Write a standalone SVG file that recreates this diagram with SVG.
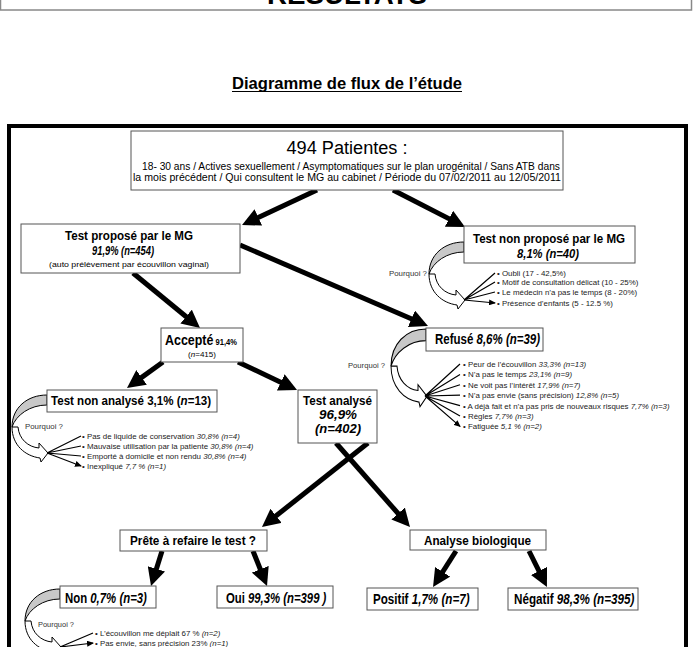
<svg xmlns="http://www.w3.org/2000/svg" width="694" height="647" viewBox="0 0 694 647">
<style>
text{font-family:"Liberation Sans",Arial,sans-serif;fill:#000}
.box{fill:#fff;stroke:#555;stroke-width:1}
.b{font-weight:bold}
.i{font-style:italic}
.bul{font-size:7.9px;fill:#222}
.pq{font-size:8px;fill:#333}
.big{stroke:#000;stroke-width:5;fill:none;marker-end:url(#ah)}
.fan{stroke:#000;stroke-width:1.2;fill:none;marker-end:url(#sh)}
</style>
<defs>
<marker id="ah" markerUnits="userSpaceOnUse" markerWidth="18" markerHeight="18" refX="8" refY="9" orient="auto"><path d="M0,0 L18,9 L0,18 Z" fill="#000"/></marker>
<marker id="sh" markerUnits="userSpaceOnUse" markerWidth="7" markerHeight="6" refX="6" refY="3" orient="auto"><path d="M0,0 L7,3 L0,6 Z" fill="#000"/></marker>
<g id="curv">
<path d="M0,0 C-20,0 -35,13 -35,32 C-31,20 -17,10 0,10 Z" fill="#c8c8c8" stroke="#000" stroke-width="1"/>
<path d="M-35,32 C-35,50 -22,61 -7,63 L-6,67 L1,58 L-8,48 L-8,53 C-19,52 -28,44 -29,32 Z" fill="#fff" stroke="#000" stroke-width="1"/>
</g>
</defs>
<rect width="694" height="647" fill="#fff"/>
<g id="header">
<rect x="0.5" y="-30" width="691" height="40" fill="#fff" stroke="#888" stroke-width="1.5"/>
<text x="347" y="4" text-anchor="middle" class="b" font-size="27" textLength="160" lengthAdjust="spacingAndGlyphs">RÉSULTATS</text>
</g>
<g id="title">
<text x="347" y="89" text-anchor="middle" class="b" font-size="16" textLength="230" lengthAdjust="spacingAndGlyphs">Diagramme de flux de l’étude</text>
<line x1="232" y1="91.5" x2="462" y2="91.5" stroke="#000" stroke-width="1.2"/>
</g>
<rect id="frame" x="9" y="126" width="677" height="560" fill="none" stroke="#000" stroke-width="4"/>
<g id="connectors">
<path class="big" d="M317,190 L251.1,220.8"/>
<path class="big" d="M393,190 L456.1,222.4"/>
<path class="big" d="M133,273 L192.3,321.7"/>
<path class="big" d="M240,245 L418.8,322"/>
<path class="big" d="M163,362 L135.1,382.1"/>
<path class="big" d="M238,362 L288,385.7"/>
<path class="big" d="M368,443 L269.8,520.8"/>
<path class="big" d="M336,443 L403.4,519.5"/>
<path class="big" d="M162,551 L154,576.5"/>
<path class="big" d="M253,551 L263.3,576.7"/>
<path class="big" d="M456,551 L438.4,578.6"/>
<path class="big" d="M529,551 L542.5,578.1"/>
<use href="#curv" transform="translate(464,242)"/>
<use href="#curv" transform="translate(426,329) scale(1,1.16)"/>
<use href="#curv" transform="translate(47,395)"/>
<use href="#curv" transform="translate(60,589)"/>
<path class="fan" d="M464,300 L495,273 M464,300 L495,282 M464,300 L495,292 M464,300 L495,303"/>
<path class="fan" d="M425,396 L460,364 M425,396 L460,374.4 M425,396 L460,384.8 M425,396 L460,395.2 M425,396 L460,405.6 M425,396 L460,416 M425,396 L460,426.4"/>
<path class="fan" d="M47,453 L81,436 M47,453 L81,446 M47,453 L81,456 M47,453 L81,466"/>
<path class="fan" d="M60,647 L93,633 M60,647 L93,643"/>
</g>
<g id="n-top">
<rect class="box" x="131" y="131" width="432" height="59"/>
<text x="347" y="154" text-anchor="middle" font-size="18" textLength="121" lengthAdjust="spacingAndGlyphs">494 Patientes :</text>
<text x="142" y="170" font-size="10.5" textLength="418" lengthAdjust="spacingAndGlyphs">18- 30 ans / Actives sexuellement / Asymptomatiques sur le plan urogénital / Sans ATB dans</text>
<text x="133" y="181" font-size="10.5" textLength="428" lengthAdjust="spacingAndGlyphs">la mois précédent /  Qui consultent le MG au  cabinet /  Période du 07/02/2011 au 12/05/2011</text>
</g>
<g id="n-propose">
<rect class="box" x="21" y="224" width="219" height="49"/>
<text x="129" y="240" text-anchor="middle" class="b" font-size="12.5" textLength="128" lengthAdjust="spacingAndGlyphs">Test proposé par le MG</text>
<text x="123" y="255" text-anchor="middle" class="b i" font-size="12.5" textLength="62" lengthAdjust="spacingAndGlyphs">91,9% (n=454)</text>
<text x="129" y="267" text-anchor="middle" font-size="7.5" fill="#222" textLength="160" lengthAdjust="spacingAndGlyphs">(auto prélèvement par écouvillon vaginal)</text>
</g>
<g id="n-nonpropose">
<rect class="box" x="464" y="226" width="171" height="37"/>
<text transform="translate(549,243) scale(0.858,1)" text-anchor="middle" class="b" font-size="13.5">Test non proposé par le MG</text>
<text transform="translate(548,257.5) scale(0.83,1)" text-anchor="middle" class="b i" font-size="13.5">8,1% (n=40)</text>
<text x="389" y="276" class="pq" textLength="38" lengthAdjust="spacingAndGlyphs">Pourquoi ?</text>
<text x="497" y="276" class="bul">• Oubli (17 - 42,5%)</text>
<text x="497" y="285" class="bul">• Motif de consultation délicat (10 - 25%)</text>
<text x="497" y="295" class="bul">• Le médecin n’a pas le temps (8 - 20%)</text>
<text x="497" y="306" class="bul">• Présence d’enfants (5 - 12.5 %)</text>
</g>
<g id="n-accepte">
<rect class="box" x="161" y="328" width="82" height="34"/>
<text transform="translate(165,345) scale(0.889,1)" class="b" font-size="14">Accepté<tspan font-size="8.5"> 91,4%</tspan></text>
<text x="202" y="357" text-anchor="middle" font-size="8">(<tspan class="i">n</tspan>=415)</text>
</g>
<g id="n-refuse">
<rect class="box" x="426" y="328" width="117" height="23"/>
<text transform="translate(435,344) scale(0.766,1)" class="b" font-size="15">Refusé <tspan class="i">8,6% (n=39)</tspan></text>
<text x="348" y="368" class="pq" textLength="37" lengthAdjust="spacingAndGlyphs">Pourquoi ?</text>
<text x="463" y="367" class="bul">• Peur de l’écouvillon <tspan class="i">33,3% (n=13)</tspan></text>
<text x="463" y="377.4" class="bul">• N’a pas le temps <tspan class="i">23,1% (n=9)</tspan></text>
<text x="463" y="387.8" class="bul">• Ne voit pas l’intérêt <tspan class="i">17,9% (n=7)</tspan></text>
<text x="463" y="398.2" class="bul">• N’a pas envie (sans précision) <tspan class="i">12,8% (n=5)</tspan></text>
<text x="463" y="408.6" class="bul">• A déjà fait et n’a pas pris de nouveaux risques <tspan class="i">7,7% (n=3)</tspan></text>
<text x="463" y="419" class="bul">• Règles <tspan class="i">7,7% (n=3)</tspan></text>
<text x="463" y="429.4" class="bul">• Fatiguée  <tspan class="i">5,1 % (n=2)</tspan></text>
</g>
<g id="n-nonanalyse">
<rect class="box" x="47" y="390" width="170" height="22"/>
<text transform="translate(51,405) scale(0.857,1)" class="b" font-size="13.5">Test non analysé 3,1% (<tspan class="i">n</tspan>=13)</text>
<text x="25" y="429" class="pq" textLength="38" lengthAdjust="spacingAndGlyphs">Pourquoi ?</text>
<text x="82" y="439" class="bul">• Pas de liquide de conservation <tspan class="i">30,8% (n=4)</tspan></text>
<text x="82" y="449" class="bul">• Mauvaise utilisation par la patiente <tspan class="i">30,8% (n=4)</tspan></text>
<text x="82" y="459" class="bul">• Emporté à domicile et non rendu <tspan class="i">30,8% (n=4)</tspan></text>
<text x="82" y="469" class="bul">• Inexpliqué <tspan class="i">7,7 % (n=1)</tspan></text>
</g>
<g id="n-analyse">
<rect class="box" x="298" y="390" width="79" height="53"/>
<text x="337.5" y="405" text-anchor="middle" class="b" font-size="13.5" textLength="69" lengthAdjust="spacingAndGlyphs">Test analysé</text>
<text x="338" y="419" text-anchor="middle" class="b i" font-size="13.5" textLength="38" lengthAdjust="spacingAndGlyphs">96,9%</text>
<text x="338" y="433" text-anchor="middle" class="b i" font-size="13.5" textLength="46" lengthAdjust="spacingAndGlyphs">(n=402)</text>
</g>
<g id="n-prete">
<rect class="box" x="120" y="530" width="147" height="21"/>
<text x="193" y="545" text-anchor="middle" class="b" font-size="13" textLength="126" lengthAdjust="spacingAndGlyphs">Prête à refaire le test ?</text>
</g>
<g id="n-analysebio">
<rect class="box" x="410" y="530" width="136" height="20"/>
<text x="477.5" y="545" text-anchor="middle" class="b" font-size="13" textLength="107" lengthAdjust="spacingAndGlyphs">Analyse biologique</text>
</g>
<g id="n-non">
<rect class="box" x="60" y="586" width="96" height="22"/>
<text transform="translate(65,603) scale(0.814,1)" class="b" font-size="14">Non <tspan class="i">0,7% (n=3)</tspan></text>
<text x="38" y="627" class="pq" textLength="36" lengthAdjust="spacingAndGlyphs">Pourquoi ?</text>
<text x="95" y="636" class="bul">• L’écouvillon me déplait 67 % <tspan class="i">(n=2)</tspan></text>
<text x="95" y="646" class="bul">•  Pas envie, sans précision 23% <tspan class="i">(n=1)</tspan></text>
</g>
<g id="n-oui">
<rect class="box" x="217" y="586" width="116" height="22"/>
<text transform="translate(226,603) scale(0.81,1)" class="b" font-size="14">Oui <tspan class="i">99,3% (n=399 )</tspan></text>
</g>
<g id="n-positif">
<rect class="box" x="367" y="588" width="111" height="22"/>
<text transform="translate(373,604) scale(0.83,1)" class="b" font-size="14">Positif <tspan class="i">1,7% (n=7)</tspan></text>
</g>
<g id="n-negatif">
<rect class="box" x="508" y="588" width="130" height="22"/>
<text transform="translate(514,604) scale(0.835,1)" class="b" font-size="14">Négatif <tspan class="i">98,3% (n=395)</tspan></text>
</g>
</svg>
